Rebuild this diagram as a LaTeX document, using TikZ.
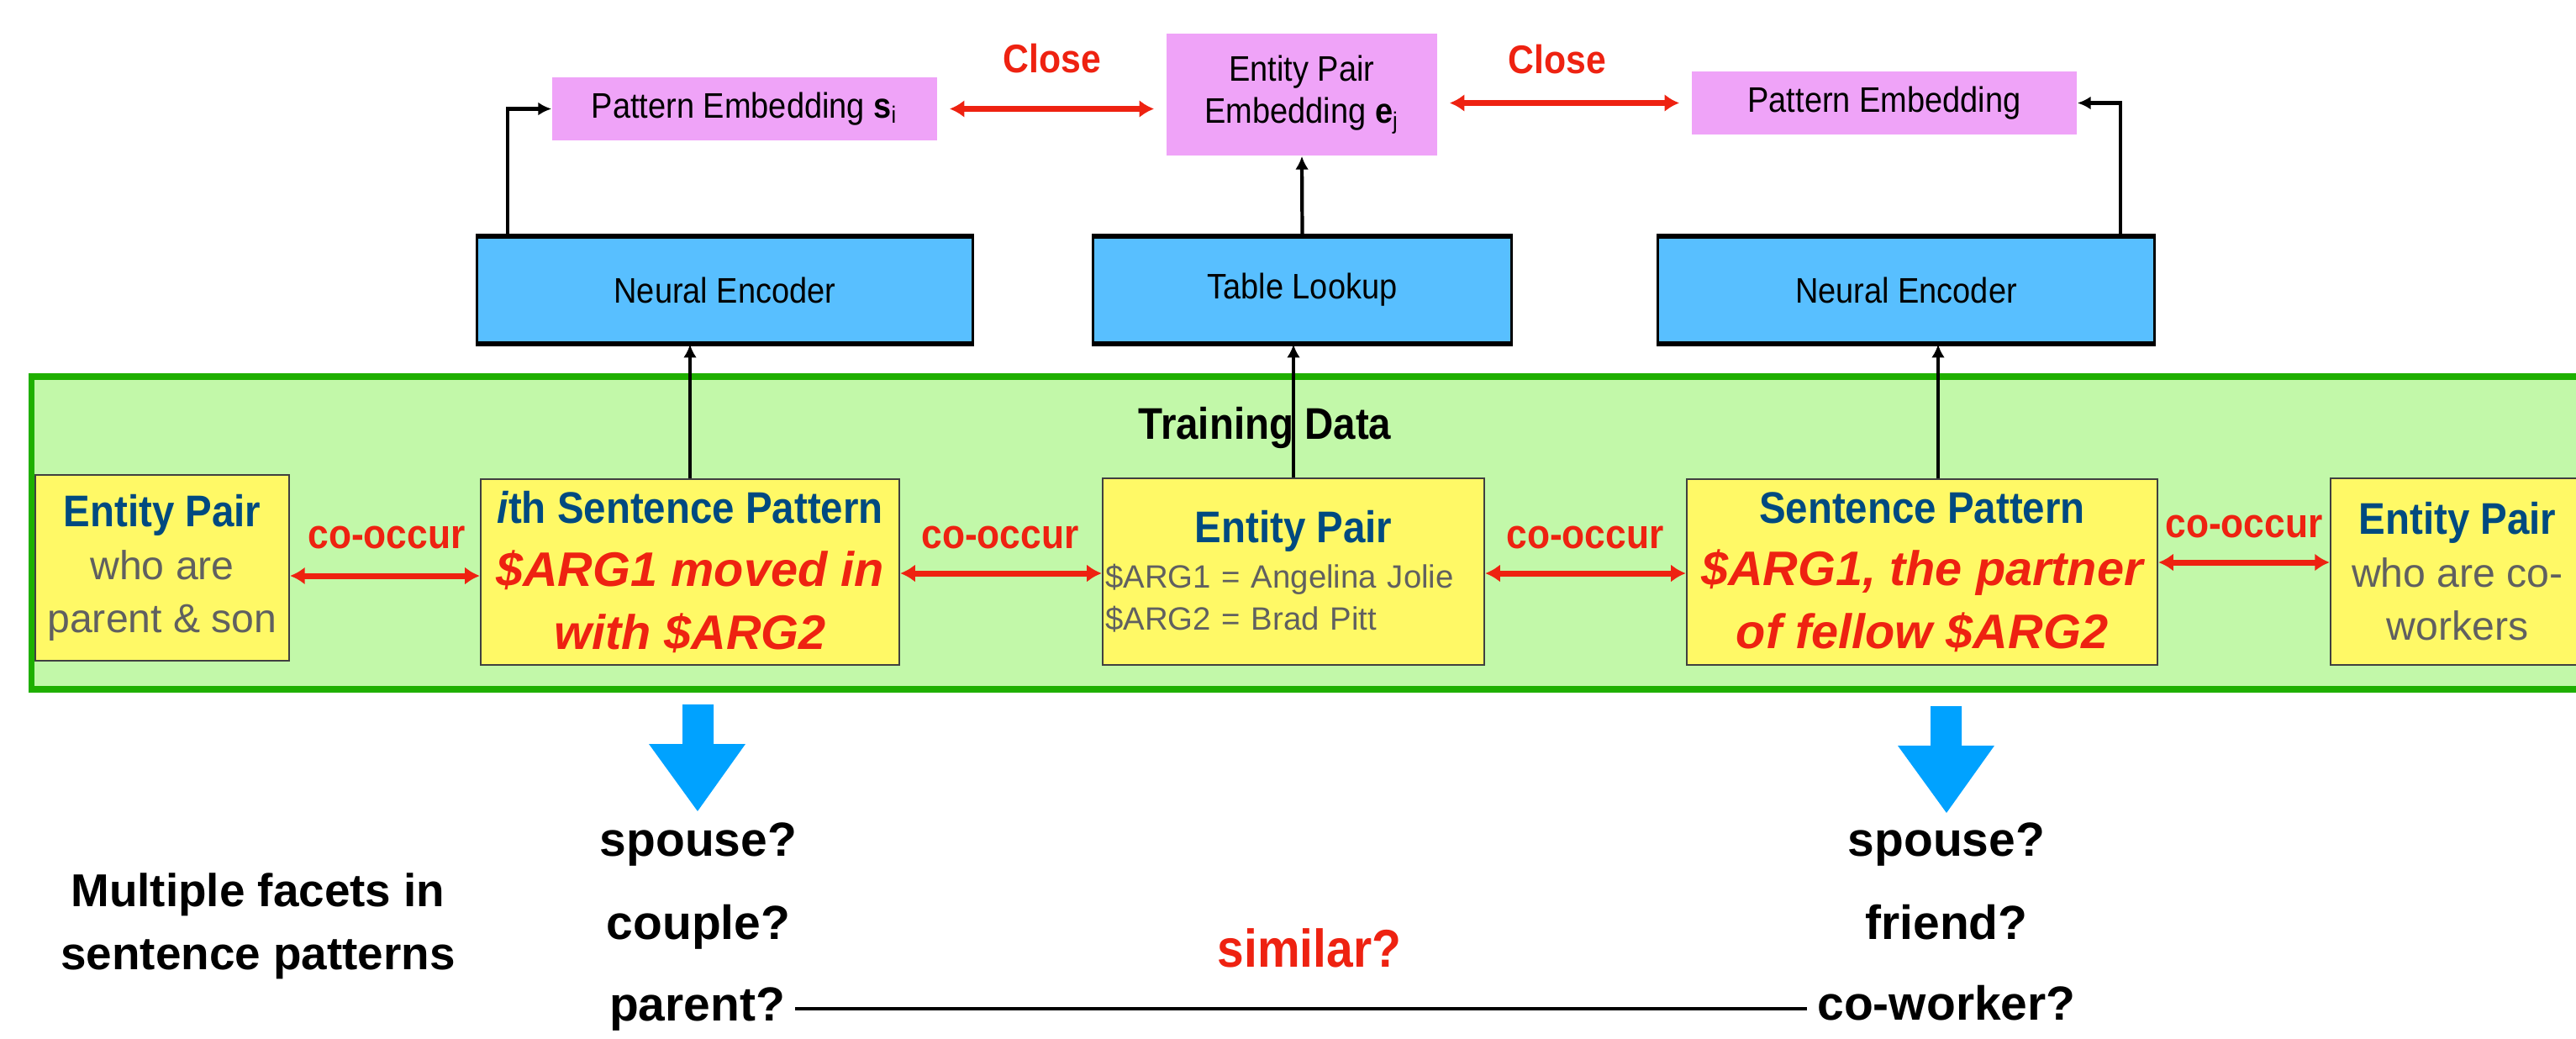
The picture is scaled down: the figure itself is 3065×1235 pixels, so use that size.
\documentclass[tikz,border=0pt]{standalone}
\usepackage{fontspec}
\setmainfont{Liberation Sans}
\newfontfamily\cnd{Liberation Sans}[FakeStretch=0.9]
\usetikzlibrary{arrows.meta,calc}
\definecolor{pinkc}{HTML}{EFA3F8}
\definecolor{encblue}{HTML}{58BFFF}
\definecolor{greenfill}{HTML}{C2F8A9}
\definecolor{greenline}{HTML}{1FAF00}
\definecolor{yellowc}{HTML}{FFF966}
\definecolor{redc}{HTML}{EE2211}
\definecolor{navy}{HTML}{004A80}
\definecolor{greyt}{HTML}{606060}
\definecolor{arrblue}{HTML}{00A2FF}
\newcommand\fLab{\cnd\fontsize{12pt}{14.2pt}\selectfont}
\newcommand\fHead{\cnd\bfseries\fontsize{15pt}{18pt}\selectfont\color{navy}}
\newcommand\fRed{\bfseries\itshape\fontsize{16.4pt}{21.2pt}\selectfont\color{redc}}
\tikzset{
  pinkbox/.style={fill=pinkc, draw=none, inner sep=0pt, align=center, font=\fLab},
  encbox/.style={fill=encblue, draw=black, line width=0.9pt, inner sep=0pt, font=\fLab, minimum height=1.26cm},
  encbar/.style={draw=black, line width=1.6pt},
  ybox/.style={fill=yellowc, draw=black!75, line width=0.6pt, inner sep=0pt, align=center, minimum height=2.21cm},
  blk/.style={draw=black, line width=1.2pt, -{Latex[length=4.5pt,width=4.5pt]}},
  redarr/.style={draw=redc, line width=2pt, {Latex[length=5pt,width=6pt]}-{Latex[length=5pt,width=6pt]}},
  closelbl/.style={font=\cnd\bfseries\fontsize{13.5pt}{16pt}\selectfont, text=redc, anchor=base},
  coo/.style={font=\cnd\bfseries\fontsize{14pt}{16pt}\selectfont, text=redc, anchor=base},
  btxt/.style={font=\bfseries\fontsize{16.2pt}{19pt}\selectfont, anchor=base},
  barrow/.style={fill=arrblue, draw=none}
}
\begin{document}
\begin{tikzpicture}[x=0.01cm,y=-0.01cm]
\useasboundingbox (0,0) rectangle (3065,1235);
\begin{scope}
\clip (0,0) rectangle (3065,1235);
\fill[white] (0,0) rectangle (3065,1235);

% training data area
\draw[greenline, line width=2.2pt, fill=greenfill] (37.5,448) rectangle (3120,820);
\node[font=\cnd\bfseries\fontsize{15pt}{18pt}\selectfont, anchor=base] (td) at (1505,522) {Training Data};

% top embeddings
\node[pinkbox, minimum width=4.58cm, minimum height=0.75cm] (pe1) at (886,129.5) {Pattern Embedding \textbf{s}\textsubscript{i}};
\node[pinkbox, minimum width=3.22cm, minimum height=1.45cm] (epe) at (1549,112.5) {Entity Pair\\Embedding \textbf{e}\textsubscript{j}};
\node[pinkbox, minimum width=4.58cm, minimum height=0.75cm] (pe2) at (2242,122.5) {Pattern Embedding};
\node[closelbl] (c1) at (1252,86) {Close};
\node[closelbl] (c2) at (1853,87) {Close};

% encoders
\node[encbox, minimum width=5.89cm] (ne1) at (862.5,345) {Neural Encoder};
\node[encbox, minimum width=4.97cm] (tl) at (1549.5,345) {Table Lookup};
\node[encbox, minimum width=5.90cm] (ne2) at (2268,345) {Neural Encoder};
\foreach \n in {ne1,tl,ne2}{
  \draw[encbar] (\n.north west) -- (\n.north east);
  \draw[encbar] (\n.south west) -- (\n.south east);
}

% yellow boxes
\node[ybox, minimum width=3.02cm, text=greyt, font=\fontsize{13.7pt}{17.9pt}\selectfont] (ep1) at (193,675.5)
  {{\fHead Entity Pair}\\who are\\parent \& son};
\node[ybox, minimum width=4.98cm, font=\fontsize{16.4pt}{21.2pt}\selectfont] (sp1) at (821,680.5)
  {{\fHead\textit{i}th Sentence Pattern}\\{\fRed \$ARG1 moved in}\\{\fRed with \$ARG2}};
\node[ybox, minimum width=4.54cm, minimum height=2.22cm, text width=4.47cm, align=left, text=greyt, font=\fontsize{10.9pt}{14.2pt}\selectfont] (ep2) at (1539,680)
  {\noindent\makebox[\linewidth]{\fHead Entity Pair}\\[1.2pt]\$ARG1 = Angelina Jolie\\\$ARG2 = Brad Pitt};
\node[ybox, minimum width=5.60cm, font=\fontsize{16.4pt}{21.2pt}\selectfont] (sp2) at (2287,680.5)
  {{\fHead Sentence Pattern}\\{\fRed \$ARG1, the partner}\\{\fRed of fellow \$ARG2}};
\node[ybox, minimum width=3.02cm, minimum height=2.22cm, text=greyt, font=\fontsize{13.7pt}{17.9pt}\selectfont] (ep3) at (2924,680)
  {{\fHead Entity Pair}\\who are co-\\workers};

% co-occur labels and arrows
\node[coo] (o1) at (460,652) {co-occur};
\node[coo] (o2) at (1190,652) {co-occur};
\node[coo] (o3) at (1886,652) {co-occur};
\node[coo] (o4) at (2670,639) {co-occur};
\draw[redarr] (ep1.east |- 0,685) -- (sp1.west |- 0,685);
\draw[redarr] (sp1.east |- 0,682) -- (ep2.west |- 0,682);
\draw[redarr] (ep2.east |- 0,682) -- (sp2.west |- 0,682);
\draw[redarr] (sp2.east |- 0,669) -- (ep3.west |- 0,669);

% close arrows
\draw[redarr, shorten <=4pt, shorten >=4pt] (pe1.east) -- (pe1.east -| epe.west);
\draw[redarr, shorten <=4pt, shorten >=4pt] (pe2.west -| epe.east) -- (pe2.west);

% black connectors
\coordinate (s2t) at ($(sp2.north)+(19,0)$);
\draw[blk] (sp1.north) -- (sp1.north |- ne1.south);
\draw[blk] (ep2.north) -- (ep2.north |- tl.south);
\draw[blk] (s2t) -- (s2t |- ne2.south);
\draw[blk] ($(ne1.north west)+(38,0)$) |- (pe1.west);
\draw[blk] (tl.north) -- (epe.south);
\draw[blk] ($(ne2.north east)+(-42,0)$) |- (pe2.east);

% blue block arrows
\fill[barrow] (812,838) -- (849,838) -- (849,885) -- (887,885) -- (830,965) -- (772,885) -- (812,885) -- cycle;
\fill[barrow] (2297,840) -- (2334,840) -- (2334,887) -- (2373,887) -- (2316,967) -- (2258,887) -- (2297,887) -- cycle;

% bottom
\node[btxt] (l1) at (831,1018) {spouse?};
\node[btxt] (l2) at (831,1117) {couple?};
\node[btxt] (l3) at (829.5,1214) {parent?};
\node[btxt] (r1) at (2316,1018) {spouse?};
\node[btxt] (r2) at (2316,1117) {friend?};
\node[btxt] (r3) at (2316,1213) {co-worker?};
\node[font=\bfseries\fontsize{15.6pt}{21.3pt}\selectfont, align=center] (mf) at (307,1101.5) {Multiple facets in\\sentence patterns};
\node[font=\cnd\bfseries\fontsize{18pt}{21pt}\selectfont, text=redc, anchor=base] (sim) at (1558,1150) {similar?};
\draw[line width=1.3pt] (l3.east) -- (l3.east -| r3.west);
\end{scope}
\end{tikzpicture}
\end{document}
